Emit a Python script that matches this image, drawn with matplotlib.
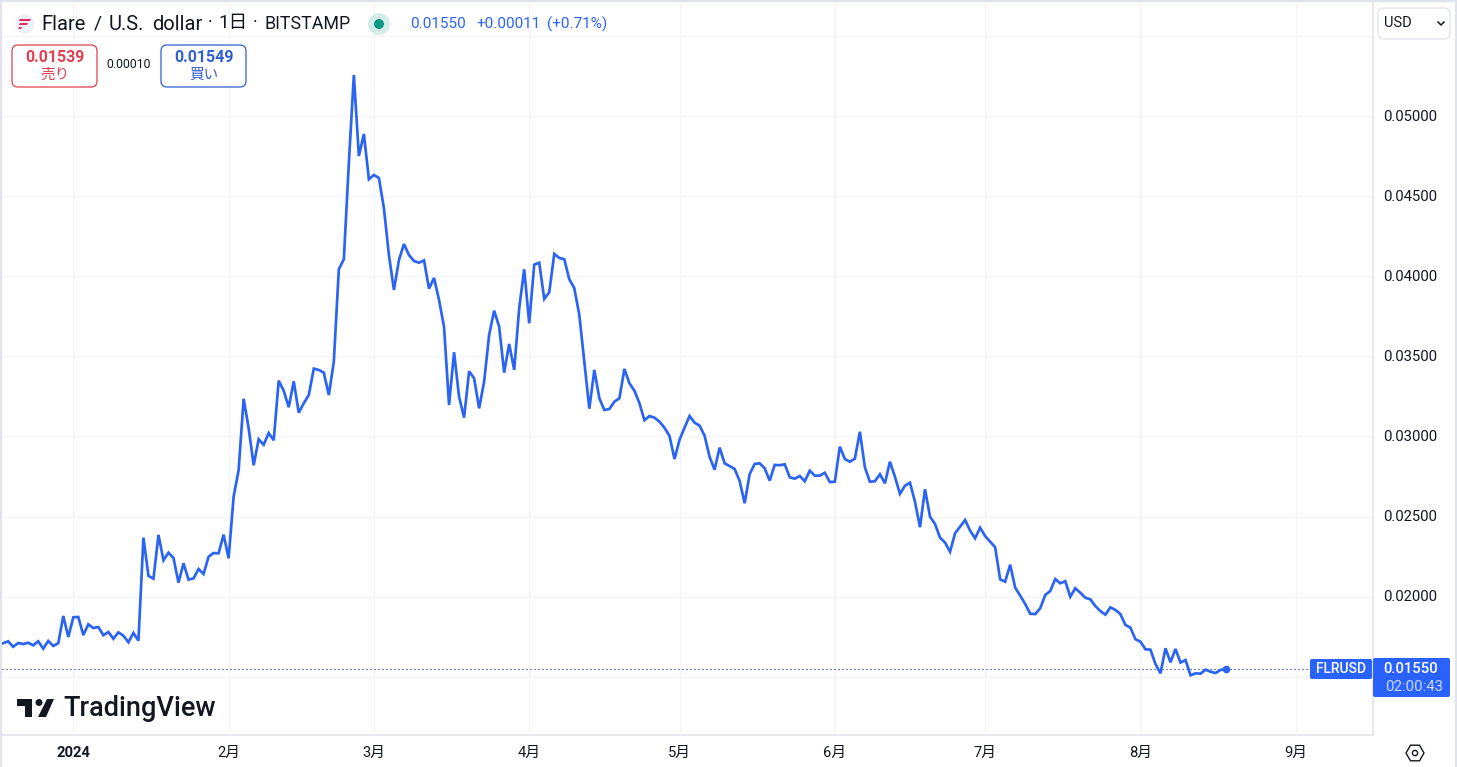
# Flare / U.S. dollar daily line chart
import numpy as np
import pandas as pd
import matplotlib.pyplot as plt
from matplotlib.patches import FancyBboxPatch, Circle, Polygon, Rectangle, RegularPolygon
from matplotlib.transforms import ScaledTranslation

plt.rcParams['font.family'] = ['Roboto', 'Noto Sans CJK JP', 'DejaVu Sans']

# Daily closes, first point is 2023-12-18
close = [
    0.01709, 0.01721, 0.01687, 0.01710, 0.01704, 0.01712, 0.01696, 0.01721, 0.01675, 0.01723, 0.01692, 0.01709, 0.01879, 0.01748,
    0.01871, 0.01873, 0.01760, 0.01827, 0.01804, 0.01810, 0.01759, 0.01779, 0.01737, 0.01777, 0.01756, 0.01715, 0.01773, 0.01725,
    0.02368, 0.02129, 0.02112, 0.02385, 0.02227, 0.02274, 0.02241, 0.02087, 0.02208, 0.02106, 0.02114, 0.02172, 0.02141, 0.02249,
    0.02272, 0.02270, 0.02387, 0.02239, 0.02624, 0.02790, 0.03235, 0.03051, 0.02820, 0.02982, 0.02948, 0.03021, 0.02976, 0.03348,
    0.03285, 0.03182, 0.03344, 0.03148, 0.03207, 0.03258, 0.03423, 0.03415, 0.03398, 0.03258, 0.03466, 0.04043, 0.04106, 0.04707,
    0.05256, 0.04750, 0.04888, 0.04605, 0.04632, 0.04613, 0.04424, 0.04132, 0.03914, 0.04101, 0.04201, 0.04132, 0.04095, 0.04084,
    0.04099, 0.03922, 0.03989, 0.03852, 0.03683, 0.03196, 0.03525, 0.03248, 0.03117, 0.03406, 0.03363, 0.03175, 0.03342, 0.03633,
    0.03785, 0.03685, 0.03398, 0.03577, 0.03415, 0.03800, 0.04043, 0.03706, 0.04072, 0.04084, 0.03858, 0.03900, 0.04139, 0.04114,
    0.04106, 0.03981, 0.03925, 0.03758, 0.03466, 0.03173, 0.03415, 0.03238, 0.03165, 0.03171, 0.03217, 0.03238, 0.03421, 0.03332,
    0.03285, 0.03207, 0.03101, 0.03127, 0.03117, 0.03092, 0.03054, 0.03003, 0.02859, 0.02978, 0.03054, 0.03127, 0.03086, 0.03067,
    0.03005, 0.02873, 0.02792, 0.02930, 0.02832, 0.02815, 0.02797, 0.02722, 0.02583, 0.02764, 0.02828, 0.02832, 0.02801, 0.02724,
    0.02822, 0.02820, 0.02826, 0.02745, 0.02736, 0.02753, 0.02720, 0.02786, 0.02755, 0.02755, 0.02773, 0.02715, 0.02717, 0.02936,
    0.02859, 0.02842, 0.02861, 0.03029, 0.02807, 0.02717, 0.02720, 0.02764, 0.02707, 0.02842, 0.02748, 0.02642, 0.02692, 0.02711,
    0.02592, 0.02433, 0.02670, 0.02499, 0.02453, 0.02368, 0.02337, 0.02280, 0.02395, 0.02436, 0.02478, 0.02412, 0.02364, 0.02430,
    0.02378, 0.02343, 0.02308, 0.02108, 0.02093, 0.02199, 0.02056, 0.02006, 0.01954, 0.01893, 0.01891, 0.01927, 0.02010, 0.02035,
    0.02110, 0.02083, 0.02096, 0.01999, 0.02052, 0.02024, 0.01993, 0.01983, 0.01941, 0.01910, 0.01887, 0.01933, 0.01917, 0.01891,
    0.01823, 0.01806, 0.01734, 0.01719, 0.01671, 0.01669, 0.01579, 0.01521, 0.01677, 0.01590, 0.01673, 0.01588, 0.01604, 0.01509,
    0.01521, 0.01519, 0.01544, 0.01531, 0.01523, 0.01542, 0.01550,
]
dates = pd.date_range('2023-12-18', periods=len(close), freq='D')

month_ticks = pd.to_datetime(['2024-01-01', '2024-02-01', '2024-03-01', '2024-04-01', '2024-05-01',
                              '2024-06-01', '2024-07-01', '2024-08-01', '2024-09-01'])
month_labels = ['2024', '2月', '3月', '4月', '5月', '6月', '7月', '8月', '9月']
price_ticks = [0.015, 0.02, 0.025, 0.03, 0.035, 0.04, 0.045, 0.05, 0.055]
price_labels = ['', '0.02000', '0.02500', '0.03000', '0.03500', '0.04000', '0.04500', '0.05000', '']
last_price = 0.0155

blue = '#2962ff'
line_blue = '#2b63f2'
red = '#e0404f'
ink = '#131722'
border = '#e0e3eb'
grid = '#f2f4fa'

W, H = 1457, 767
fig = plt.figure(figsize=(W / 100, H / 100), dpi=100, facecolor='white')

# plot area, 5.01 px per day and 16020 px per dollar
ax = fig.add_axes([2 / W, 1 - 735 / H, 1371 / W, 733 / H])
jan1 = pd.Timestamp('2024-01-01')
ax.set_xlim(jan1 + pd.Timedelta(days=(2 - 73.3) / 5.01), jan1 + pd.Timedelta(days=(1373 - 73.3) / 5.01))
ax.set_ylim(0.05 - (735 - 116) / 16020, 0.05 + (116 - 2) / 16020)

ax.plot(dates, close, color=line_blue, lw=1.95, solid_joinstyle='miter', zorder=3)
ax.plot(dates[-1], close[-1], 'o', color=line_blue, ms=5.5, mew=0, zorder=4)
ax.axhline(last_price, color='#2a4fc0', lw=0.9, ls=(0, (1, 2.2)), zorder=2)

ax.set_xticks(month_ticks)
ax.set_xticklabels(month_labels, fontsize=10.6, color=ink)
ax.get_xticklabels()[0].set_fontweight('bold')
ax.yaxis.tick_right()
ax.set_yticks(price_ticks)
ax.set_yticklabels(price_labels, fontsize=10.7, color=ink)
ax.tick_params(axis='both', length=0)
ax.tick_params(axis='x', pad=8)
ax.tick_params(axis='y', pad=7.5)
ax.grid(True, color=grid, lw=0.9)
ax.set_axisbelow(True)
for name in ['top', 'left']:
    ax.spines[name].set_visible(False)
for name in ['right', 'bottom']:
    ax.spines[name].set_color(border)
    ax.spines[name].set_linewidth(1.1)

# nudge the price labels up a pixel
nudge = ScaledTranslation(0, 1 / 100, fig.dpi_scale_trans)
for lbl in ax.get_yticklabels():
    lbl.set_transform(lbl.get_transform() + nudge)

# everything around the chart sits on an overlay in pixel coordinates
ui = fig.add_axes([0, 0, 1, 1], facecolor='none', zorder=5)
ui.set_xlim(0, W)
ui.set_ylim(H, 0)
ui.axis('off')


def box(x0, y0, x1, y1, edge, face='white', r=6, lw=0.9):
    ui.add_patch(FancyBboxPatch((x0 + r, y0 + r), x1 - x0 - 2 * r, y1 - y0 - 2 * r,
                                boxstyle='round,pad=%d,rounding_size=%d' % (r, r),
                                fc=face, ec=edge, lw=lw, mutation_aspect=1))


def label(x, y, s, size=11, color=ink, ha='center', weight='normal', alpha=1):
    ui.text(x, y, s, fontsize=size, color=color, ha=ha, va='center', fontweight=weight, alpha=alpha)


# outer frame
ui.add_patch(Rectangle((0, 0), W, 2, fc=border, ec='none'))
ui.add_patch(Rectangle((0, 0), 2, H, fc=border, ec='none'))
ui.add_patch(Rectangle((W - 2, 0), 2, H, fc=border, ec='none'))

# header
ui.add_patch(Circle((25, 24), 9.5, fc='#eef0f8', ec='none'))
ui.add_patch(Polygon([(20, 19), (31, 19), (30, 21), (19, 21)], fc='#e6275f', ec='none'))
ui.add_patch(Polygon([(20, 23), (28, 23), (27, 25), (19, 25)], fc='#e6275f', ec='none'))
ui.add_patch(Polygon([(19, 27), (22, 27), (21, 29), (18.5, 29)], fc='#e6275f', ec='none'))
label(41, 24, 'Flare', size=14.5, ha='left')
label(94, 24, '/', size=14, ha='left')
label(109, 24, 'U.S.', size=14.5, ha='left')
label(152, 24, 'dollar', size=14.5, ha='left')
label(208, 23, '·', size=13, ha='left')
label(218, 23, '1日', size=13.5, ha='left')
label(253, 23, '·', size=13, ha='left')
label(265, 24, 'BITSTAMP', size=12.8, ha='left')
ui.add_patch(Circle((379, 24), 11, fc='#d6ece8', ec='none'))
ui.add_patch(Circle((379, 24), 5, fc='#089981', ec='none'))
label(410, 24, '0.01550', color=blue, ha='left')
label(476, 24, '+0.00011', color=blue, ha='left')
label(547, 24, '(+0.71%)', color=blue, ha='left')

# bid / ask buttons
box(12, 45, 97, 87, red)
label(55, 58, '0.01539', size=11.5, color=red, weight='bold')
label(55, 75, '売り', size=10.5, color=red)
label(129, 65, '0.00010', size=8.8)
box(161, 45, 246, 87, '#2f5fd0')
label(204, 58, '0.01549', size=11.5, color='#2f5fd0', weight='bold')
label(204, 75, '買い', size=10.5, color='#2f5fd0')

# currency selector
box(1378, 8, 1450, 39, border)
label(1384, 23, 'USD', size=10.5, ha='left')
ui.plot([1438, 1441, 1444], [22, 25, 22], color=ink, lw=1.1)

# last price tags
box(1310, 659, 1372, 679, blue, face=blue, r=2, lw=0)
label(1341, 669, 'FLRUSD', size=10, color='white', weight='medium')
box(1373, 658, 1450, 697, blue, face=blue, r=2, lw=0)
label(1411, 669, '0.01550', size=10.7, color='white', weight='medium')
label(1414, 687, '02:00:43', size=10.8, color='white', alpha=0.75)

# settings icon
ui.add_patch(RegularPolygon((1415, 753), 6, radius=9, orientation=np.pi / 6, fc='none', ec=ink, lw=1))
ui.add_patch(Circle((1415, 753), 2.6, fc='none', ec=ink, lw=1))

# TradingView logo
logo = '#131722'
ui.add_patch(Polygon([(17, 699), (32, 699), (32, 717), (25, 717), (25, 706), (17, 706)], fc=logo, ec='none'))
ui.add_patch(Circle((39, 702.5), 3.5, fc=logo, ec='none'))
ui.add_patch(Polygon([(47, 699), (54, 699), (46, 717), (38, 717)], fc=logo, ec='none'))
label(63, 709, 'TradingView', size=19.5, color=logo, ha='left', weight='medium')

fig.savefig('out.png', dpi=100)
